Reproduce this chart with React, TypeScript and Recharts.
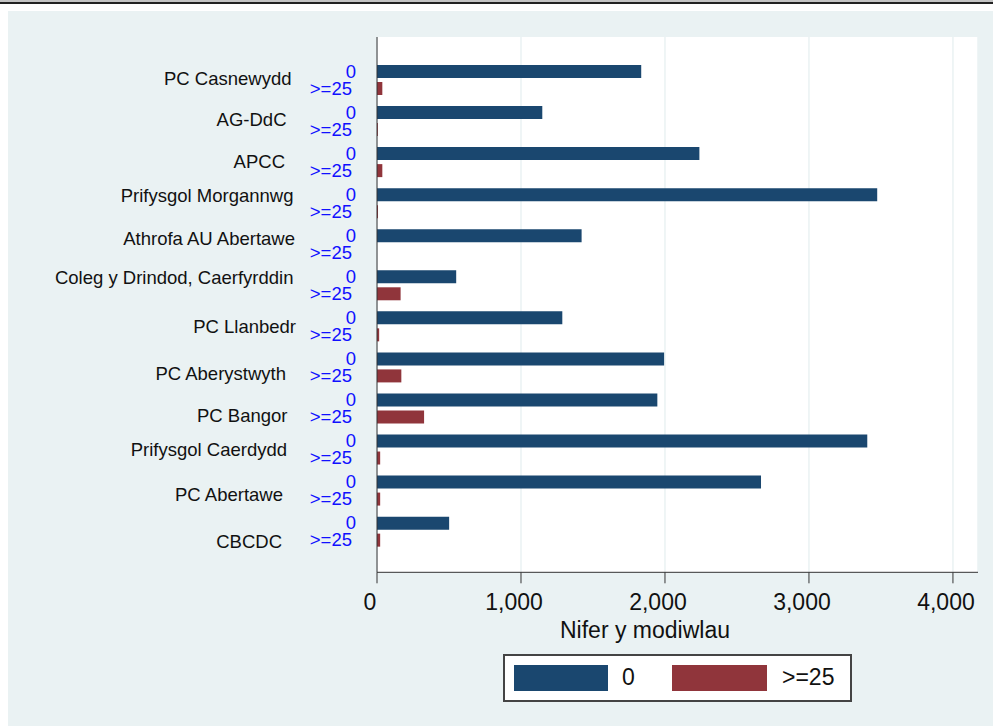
import React from 'react';
import { BarChart, Bar, XAxis, YAxis, CartesianGrid } from 'recharts';

const categories = [
  'PC Casnewydd',
  'AG-DdC',
  'APCC',
  'Prifysgol Morgannwg',
  'Athrofa AU Abertawe',
  'Coleg y Drindod, Caerfyrddin',
  'PC Llanbedr',
  'PC Aberystwyth',
  'PC Bangor',
  'Prifysgol Caerdydd',
  'PC Abertawe',
  'CBCDC',
];
const zeroValues = [1835, 1148, 2239, 3474, 1421, 550, 1287, 1994, 1947, 3405, 2667, 501];
const over25Values = [37, 6, 37, 7, 0, 164, 15, 169, 327, 22, 22, 22];
const seriesLabels = ['0', '>=25'];
const xTicks = [0, 1000, 2000, 3000, 4000];
const xTitle = 'Nifer y modiwlau';

// layout: per-row nudges of the category names (as placed in the original)
const nameShiftY = [-1, -1, -0.5, -7.5, -5.5, -7, 0.2, 7, 7.8, 0.3, 4.2, 10.5];
const nameRight = [291.5, 286.5, 285, 293.5, 295, 293.5, 296, 286, 287.5, 287, 283, 282];

const BLUE = '#1a476f';
const RED = '#90353b';
const BG = '#eaf2f3';
const FONT = '"Liberation Sans", Arial, Helvetica, sans-serif';

const data = categories.map((name, i) => ({
  name,
  zero: zeroValues[i],
  over25: over25Values[i],
}));

const fmt = (v: number) => v.toLocaleString('en-US');

const YTick = (props: any) => {
  const { y, payload, index } = props;
  const i = typeof index === 'number' ? index : categories.indexOf(payload.value);
  return (
    <g>
      <text x={nameRight[i]} y={y + nameShiftY[i]} dy="0.35em" textAnchor="end" fontSize={18.5} fill="#111" fontFamily={FONT}>
        {payload.value}
      </text>
      <text x={356} y={y - 8.3} dy="0.35em" textAnchor="end" fontSize={18.5} fill="#1010ff" fontFamily={FONT}>
        {seriesLabels[0]}
      </text>
      <text x={352} y={y + 8.7} dy="0.35em" textAnchor="end" fontSize={18.5} fill="#1010ff" fontFamily={FONT}>
        {seriesLabels[1]}
      </text>
    </g>
  );
};

const XTick = (props: any) => {
  const { x, payload } = props;
  return (
    <text x={x - 7} y={602} dy="0.35em" textAnchor="middle" fontSize={23} fill="#111" fontFamily={FONT}>
      {fmt(payload.value)}
    </text>
  );
};

export default function App() {
  return (
    <div style={{ position: 'absolute', left: 0, top: 0, width: 993, height: 726, background: '#fff', fontFamily: FONT, overflow: 'hidden' }}>
      <div style={{ position: 'absolute', left: 0, top: 0, width: 993, height: 2, background: '#c4c4c4' }} />
      <div style={{ position: 'absolute', left: 0, top: 2, width: 993, height: 1.5, background: '#222' }} />
      <div style={{ position: 'absolute', left: 8, top: 11, width: 985, height: 715, background: BG }} />
      <div style={{ position: 'absolute', left: 0, top: 0 }}>
        <BarChart
          width={993}
          height={726}
          layout="vertical"
          data={data}
          margin={{ top: 37, right: 15, bottom: 0, left: 0 }}
          barSize={13}
          barGap={4}
        >
          <CartesianGrid horizontal={false} fill="#ffffff" stroke={BG} strokeWidth={1.5} />
          <XAxis
            type="number"
            domain={[0, 4174]}
            ticks={xTicks}
            allowDataOverflow
            height={153.7}
            tick={<XTick />}
            tickSize={11}
            tickLine={{ stroke: '#333' }}
            axisLine={{ stroke: '#333' }}
            interval={0}
          />
          <YAxis
            type="category"
            dataKey="name"
            width={377}
            padding={{ top: 22, bottom: 20.6 }}
            tick={<YTick />}
            tickLine={false}
            axisLine={{ stroke: '#333' }}
            interval={0}
          />
          <Bar dataKey="zero" name={seriesLabels[0]} fill={BLUE} isAnimationActive={false} />
          <Bar dataKey="over25" name={seriesLabels[1]} fill={RED} isAnimationActive={false} />
        </BarChart>
      </div>
      <div style={{ position: 'absolute', left: 545, width: 200, top: 616, textAlign: 'center', fontSize: 23, color: '#111', lineHeight: '28px' }}>
        {xTitle}
      </div>
      <div style={{ position: 'absolute', left: 503, top: 654, width: 349, height: 48, border: '2px solid #444', background: '#fff', boxSizing: 'border-box' }}>
        <div style={{ position: 'absolute', left: 9, top: 8.5, width: 94, height: 26, background: BLUE }} />
        <div style={{ position: 'absolute', left: 117, top: 7, fontSize: 23, lineHeight: '28px', color: '#111' }}>{seriesLabels[0]}</div>
        <div style={{ position: 'absolute', left: 167, top: 8.5, width: 95, height: 26, background: RED }} />
        <div style={{ position: 'absolute', left: 277, top: 7, fontSize: 23, lineHeight: '28px', color: '#111' }}>{seriesLabels[1]}</div>
      </div>
    </div>
  );
}
